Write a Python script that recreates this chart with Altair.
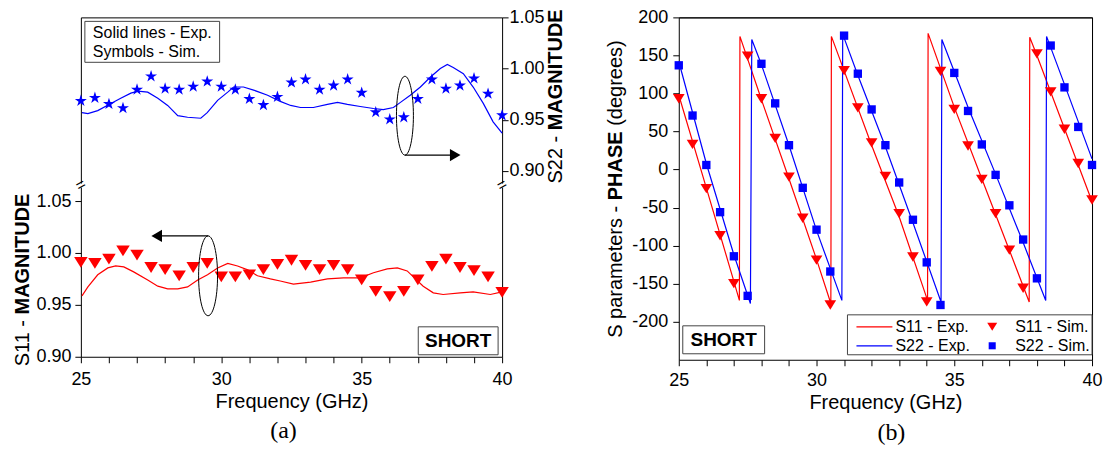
import altair as alt
import pandas as pd

FONT = "Liberation Sans"
SERIF = "Liberation Serif"
RED = "#ff0000"
BLUE = "#0000ff"

# ---------------- data ----------------
freq_sim = [25.0, 25.5, 26.0, 26.5, 27.0, 27.5, 28.0, 28.5, 29.0, 29.5, 30.0,
            30.5, 31.0, 31.5, 32.0, 32.5, 33.0, 33.5, 34.0, 34.5, 35.0, 35.5,
            36.0, 36.5, 37.0, 37.5, 38.0, 38.5, 39.0, 39.5, 40.0]

# (a) magnitude, simulated (symbols)
s22_mag_sim = [0.969, 0.972, 0.966, 0.962, 0.980, 0.993, 0.981, 0.980, 0.983, 0.988,
               0.983, 0.980, 0.971, 0.965, 0.973, 0.987, 0.990, 0.980, 0.984, 0.990,
               0.977, 0.958, 0.951, 0.953, 0.971, 0.990, 0.981, 0.984, 0.991, 0.976, 0.955]
s11_mag_sim = [0.991, 0.990, 0.994, 1.002, 0.998, 0.986, 0.984, 0.978, 0.986, 0.990,
               0.977, 0.977, 0.979, 0.984, 0.989, 0.993, 0.988, 0.984, 0.988, 0.984,
               0.974, 0.963, 0.958, 0.963, 0.974, 0.987, 0.994, 0.986, 0.983, 0.977, 0.962]

# (a) magnitude, measured (solid lines)
s22_exp_freq = [25.04, 25.25, 25.6, 26.07, 26.42, 26.78, 27.03, 27.38, 27.74, 28.09,
                28.45, 28.8, 29.27, 29.5, 29.87, 30.23, 30.44, 30.79, 31.15, 31.65,
                32.1, 32.47, 32.82, 33.28, 33.78, 34.14, 34.49, 34.95, 35.42, 35.77,
                36.13, 36.38, 36.73, 37.09, 37.44, 37.8, 38.05, 38.26, 38.62, 38.97,
                39.33, 39.68, 40.0]
s22_exp_mag = [0.957, 0.956, 0.959, 0.966, 0.971, 0.976, 0.978, 0.977, 0.971, 0.964,
               0.954, 0.9525, 0.9515, 0.957, 0.969, 0.977, 0.982, 0.982, 0.979, 0.974,
               0.968, 0.964, 0.962, 0.962, 0.965, 0.967, 0.965, 0.963, 0.961, 0.960,
               0.962, 0.967, 0.974, 0.982, 0.9915, 1.000, 1.004, 1.001, 0.995, 0.982,
               0.966, 0.948, 0.937]
s11_exp_freq = [25.04, 25.25, 25.6, 25.96, 26.24, 26.53, 26.88, 27.38, 27.74, 28.09,
                28.45, 28.8, 29.16, 29.51, 29.87, 30.23, 30.58, 30.94, 31.29, 31.75,
                32.1, 32.57, 33.18, 33.78, 34.35, 34.95, 35.42, 35.91, 36.27, 36.62,
                36.84, 37.19, 37.55, 37.9, 38.51, 38.97, 39.58, 40.0]
s11_exp_mag = [0.9587, 0.9673, 0.979, 0.9856, 0.9875, 0.9866, 0.9818, 0.974, 0.968, 0.9654,
               0.9654, 0.9673, 0.974, 0.979, 0.9856, 0.990, 0.9875, 0.9837, 0.978, 0.975,
               0.973, 0.970, 0.972, 0.975, 0.976, 0.976, 0.981, 0.9847, 0.9856, 0.9827,
               0.977, 0.968, 0.9616, 0.960, 0.9616, 0.9625, 0.960, 0.9625]

# (b) phase, simulated (symbols)
s11_phase_sim = [93, 33, -25, -87, -150, 149, 93, 41, -10, -64, -119, -178, 130, 81, 35,
                 -9, -58, -115, -174, 129, 79, 31, -13, -58, -106, -156, 152, 102, 53, 8, -40]
s22_phase_sim = [137, 71, 6, -56, -114, -166, 139, 87, 32, -24, -79, -134, 176, 126, 79,
                 32, -17, -66, -122, -178, 127, 77, 33, -7, -47, -92, -143, 163, 108, 56, 6]

# (b) phase, measured (solid lines)
s11_exp_phase_freq = [25.0, 26.0, 27.0, 27.20, 27.22, 28.0, 29.0, 30.0, 30.52, 30.54, 31.0,
                      32.0, 33.0, 34.03, 34.05, 35.0, 36.0, 37.0, 37.72, 37.74, 38.0, 39.0, 40.0]
s11_exp_phase = [98, -24, -147, -172, 175, 92, -12, -118, -176, 175, 130,
                 32, -62, -172, 179, 82, -12, -106, -174, 174, 150, 54, -42]
s22_exp_phase_freq = [25.0, 26.0, 27.0, 27.6, 27.65, 28.0, 29.0, 30.0, 30.92, 30.95, 31.5,
                      32.5, 33.5, 34.52, 34.55, 35.5, 36.5, 37.5, 38.32, 38.35, 39.0, 40.0]
s22_exp_phase = [142, 8, -112, -176, 171, 138, 32, -80, -172, 178, 124,
                 30, -70, -174, 171, 82, -6, -96, -172, 175, 112, 14]

freq_ticks = [25, 26, 27, 28, 29, 30, 31, 32, 33, 34, 35, 36, 37, 38, 39, 40]
mag_ticks = [0.90, 0.95, 1.00, 1.05]
phase_ticks = [-200, -150, -100, -50, 0, 50, 100, 150, 200]
legend_names = ["S11 - Exp.", "S11 - Sim.", "S22 - Exp.", "S22 - Sim."]

# annotation anchors (data coordinates)
top_ellipse = {"f": [36.54], "v": [0.954]}
top_arrow = {"f": [36.54], "f2": [38.33], "v": [0.9155]}
bot_ellipse = {"f": [29.53], "v": [0.978]}
bot_arrow = {"f": [29.53], "f2": [27.70], "v": [1.0164]}

# ---------------- shapes ----------------
STAR = ("M0,-0.905L0.2245,-0.214L0.951,-0.214L0.3633,0.213L0.588,0.904L0,0.477"
        "L-0.588,0.904L-0.3633,0.213L-0.951,-0.214L-0.2245,-0.214Z")
TRI = "M-1,-0.8L1,-0.8L0,0.8Z"


def ellipse_path(rx):
    k = 0.5523
    return (f"M0,-1C{rx*k:.4f},-1 {rx:.4f},{-k:.4f} {rx:.4f},0"
            f"C{rx:.4f},{k:.4f} {rx*k:.4f},1 0,1"
            f"C{-rx*k:.4f},1 {-rx:.4f},{k:.4f} {-rx:.4f},0"
            f"C{-rx:.4f},{-k:.4f} {-rx*k:.4f},-1 0,-1Z")


# ---------------- frames ----------------
df_s22_sim = pd.DataFrame({"f": freq_sim, "v": s22_mag_sim})
df_s11_sim = pd.DataFrame({"f": freq_sim, "v": s11_mag_sim})
df_s22_exp = pd.DataFrame({"f": s22_exp_freq, "v": s22_exp_mag})
df_s11_exp = pd.DataFrame({"f": s11_exp_freq, "v": s11_exp_mag})

df_phase_exp = pd.concat([
    pd.DataFrame({"f": s11_exp_phase_freq, "v": s11_exp_phase, "s": "S11"}),
    pd.DataFrame({"f": s22_exp_phase_freq, "v": s22_exp_phase, "s": "S22"}),
])
df_s11_phase_sim = pd.DataFrame({"f": freq_sim, "v": s11_phase_sim})
df_s22_phase_sim = pd.DataFrame({"f": freq_sim, "v": s22_phase_sim})
dummy = pd.DataFrame({"a": [0]})

XSCALE = alt.Scale(domain=[25, 40], nice=False, zero=False)
W_A, H_TOP, H_BOT = 422, 166, 170
W_B, H_B = 414, 343
TOP_DOMAIN = [0.8882, 1.05]
BOT_DOMAIN = [0.90, 1.0635]


def frame_axis(orient):
    return alt.Axis(orient=orient, labels=False, ticks=False, title=None, grid=False, domain=True)


def box(x1, x2, y1, y2):
    return alt.Chart(dummy).mark_rect(fill="white", stroke="#444", strokeWidth=1).encode(
        x=alt.value(x1), x2=alt.value(x2), y=alt.value(y1), y2=alt.value(y2))


def label(text, x, y, size=16, weight="normal", align="left", angle=0, font=FONT):
    return alt.Chart(dummy).mark_text(
        text=text, align=align, baseline="middle", fontSize=size, fontWeight=weight,
        angle=angle, font=font, color="black").encode(x=alt.value(x), y=alt.value(y))


def swatch_line(x1, x2, y, color):
    return alt.Chart(dummy).mark_rule(color=color, strokeWidth=1.2).encode(
        x=alt.value(x1), x2=alt.value(x2), y=alt.value(y))


def swatch_point(x, y, shape, size, color):
    return alt.Chart(dummy).mark_point(shape=shape, size=size, filled=True, color=color,
                                       opacity=1).encode(x=alt.value(x), y=alt.value(y))


def freq_axis_bottom(pad):
    return alt.Axis(orient="bottom", values=freq_ticks,
                    labelExpr="datum.value % 5 == 0 ? datum.label : ''",
                    title="Frequency (GHz)", tickSize=6, labelPadding=pad,
                    titlePadding=3, labelFlush=False, grid=False)


# ---------------- (a) top: S22 magnitude ----------------
x_top = alt.X("f:Q", scale=XSCALE, axis=frame_axis("top"))
ysc_top = alt.Scale(domain=TOP_DOMAIN, nice=False, zero=False)

top_line = alt.Chart(df_s22_exp).mark_line(color=BLUE, strokeWidth=1.2).encode(
    x=x_top,
    y=alt.Y("v:Q", scale=ysc_top,
            axis=alt.Axis(orient="right", values=mag_ticks, format=".2f", title=None,
                          tickSize=6, labelPadding=1, grid=False)))
top_pts = alt.Chart(df_s22_sim).mark_point(shape=STAR, size=160, filled=True, color=BLUE,
                                           opacity=1).encode(
    x=x_top, y=alt.Y("v:Q", scale=ysc_top, axis=frame_axis("left")))
top_ell = alt.Chart(pd.DataFrame(top_ellipse)).mark_point(
    shape=ellipse_path(0.215), size=6241, filled=False, color="black", strokeWidth=1,
    opacity=1).encode(x=x_top, y=alt.Y("v:Q", scale=ysc_top, axis=None))
top_arr = alt.Chart(pd.DataFrame(top_arrow)).mark_rule(color="black", strokeWidth=1.2).encode(
    x=x_top, x2="f2:Q", y=alt.Y("v:Q", scale=ysc_top, axis=None))
top_head = alt.Chart(pd.DataFrame(top_arrow)).mark_point(
    shape="triangle-right", size=150, filled=True, color="black", opacity=1).encode(
    x=alt.X("f2:Q", scale=XSCALE, axis=frame_axis("top")),
    y=alt.Y("v:Q", scale=ysc_top, axis=None))

top = alt.layer(
    top_line, top_pts, top_ell, top_arr, top_head,
    box(4, 139, 4, 45),
    label("Solid lines - Exp.", 12, 16),
    label("Symbols - Sim.", 12, 35),
    label("S22 -", 476, 118.6, size=20, align="right", angle=270),
    label("MAGNITUDE", 476, 113, size=20, weight="bold", align="left", angle=270),
).resolve_scale(y="independent").properties(width=W_A, height=H_TOP)

# ---------------- (a) bottom: S11 magnitude ----------------
x_bot = alt.X("f:Q", scale=XSCALE, axis=freq_axis_bottom(8))
ysc_bot = alt.Scale(domain=BOT_DOMAIN, nice=False, zero=False)

bot_line = alt.Chart(df_s11_exp).mark_line(color=RED, strokeWidth=1.2).encode(
    x=x_bot,
    y=alt.Y("v:Q", scale=ysc_bot,
            axis=alt.Axis(orient="left", values=mag_ticks, format=".2f", title=None,
                          tickSize=6, labelPadding=4, grid=False)))
bot_pts = alt.Chart(df_s11_sim).mark_point(shape=TRI, size=182, filled=True, color=RED,
                                           opacity=1).encode(
    x=x_bot, y=alt.Y("v:Q", scale=ysc_bot, axis=frame_axis("right")))
bot_ell = alt.Chart(pd.DataFrame(bot_ellipse)).mark_point(
    shape=ellipse_path(0.2375), size=6400, filled=False, color="black", strokeWidth=1,
    opacity=1).encode(x=x_bot, y=alt.Y("v:Q", scale=ysc_bot, axis=None))
bot_arr = alt.Chart(pd.DataFrame(bot_arrow)).mark_rule(color="black", strokeWidth=1.2).encode(
    x=x_bot, x2="f2:Q", y=alt.Y("v:Q", scale=ysc_bot, axis=None))
bot_head = alt.Chart(pd.DataFrame(bot_arrow)).mark_point(
    shape="triangle-left", size=150, filled=True, color="black", opacity=1).encode(
    x=alt.X("f2:Q", scale=XSCALE, axis=freq_axis_bottom(8)),
    y=alt.Y("v:Q", scale=ysc_bot, axis=None))

bottom = alt.layer(
    bot_line, bot_pts, bot_ell, bot_arr, bot_head,
    box(338, 418, 140, 168),
    label("SHORT", 378, 154, size=19, weight="bold", align="center"),
    label("=", 0, -2, size=16, align="center", angle=330),
    label("=", W_A, -2, size=16, align="center", angle=330),
    label("S11 -", -58, 133.2, size=20, align="right", angle=270),
    label("MAGNITUDE", -58, 127.6, size=20, weight="bold", align="left", angle=270),
    label("(a)", 203, 244, size=24, align="center", font=SERIF),
).resolve_scale(y="independent").properties(width=W_A, height=H_BOT)

panel_a = alt.vconcat(top, bottom, spacing=4, bounds="flush")

# ---------------- (b) phase ----------------
ysc_b = alt.Scale(domain=[-250, 200], nice=False, zero=False)

b_lines = alt.Chart(df_phase_exp).mark_line(strokeWidth=1.2).encode(
    x=alt.X("f:Q", scale=XSCALE, axis=freq_axis_bottom(6)),
    y=alt.Y("v:Q", scale=ysc_b,
            axis=alt.Axis(orient="left", values=phase_ticks, labelExpr="'' + datum.value",
                          title=None, tickSize=6, labelPadding=5, grid=False)),
    color=alt.Color("s:N", scale=alt.Scale(domain=["S11", "S22"], range=[RED, BLUE]),
                    legend=None))
x_b_top = alt.X("f:Q", scale=XSCALE, axis=frame_axis("top"))
y_b_right = alt.Y("v:Q", scale=ysc_b, axis=frame_axis("right"))
b_tri = alt.Chart(df_s11_phase_sim).mark_point(
    shape=TRI, size=137, filled=True, color=RED, opacity=1).encode(x=x_b_top, y=y_b_right)
b_sq = alt.Chart(df_s22_phase_sim).mark_point(
    shape="square", size=70, filled=True, color=BLUE, opacity=1).encode(x=x_b_top, y=y_b_right)

# legend box (panel-b pixel frame)
LX, LY = 169, 298
legend_layers = [
    box(LX, LX + 245, LY, LY + 40),
    swatch_line(LX + 9, LX + 45, LY + 12, RED),
    swatch_line(LX + 9, LX + 45, LY + 31, BLUE),
    label(legend_names[0], LX + 48, LY + 12),
    label(legend_names[2], LX + 48, LY + 31),
    swatch_point(LX + 145, LY + 12, TRI, 100, RED),
    swatch_point(LX + 145, LY + 31, "square", 50, BLUE),
    label(legend_names[1], LX + 168, LY + 12),
    label(legend_names[3], LX + 168, LY + 31),
]

panel_b = alt.layer(
    b_lines, b_tri, b_sq,
    *legend_layers,
    box(4, 86, 309, 337),
    label("SHORT", 45, 323, size=19, weight="bold", align="center"),
    label("S parameters -", -63, 188.8, size=20, align="right", angle=270),
    label("PHASE", -63, 183.2, size=20, weight="bold", align="left", angle=270),
    label("(degrees)", -63, 108.6, size=20, align="left", angle=270),
    label("(b)", 213, 416, size=24, align="center", font=SERIF),
).resolve_scale(x="independent", y="independent").properties(width=W_B, height=H_B)

chart = alt.hconcat(panel_a, panel_b, spacing=39).properties(
    padding={"left": 4, "top": 0, "right": 0, "bottom": 0}
).configure_view(stroke=None).configure_axis(
    labelFont=FONT, labelFontSize=18, labelColor="black",
    titleFont=FONT, titleFontSize=20, titleColor="black", titleFontWeight="normal",
    domainColor="black", tickColor="black", domainWidth=1, tickWidth=1, grid=False)

chart.save("out.html", embed_options={"renderer": "svg", "actions": False})
